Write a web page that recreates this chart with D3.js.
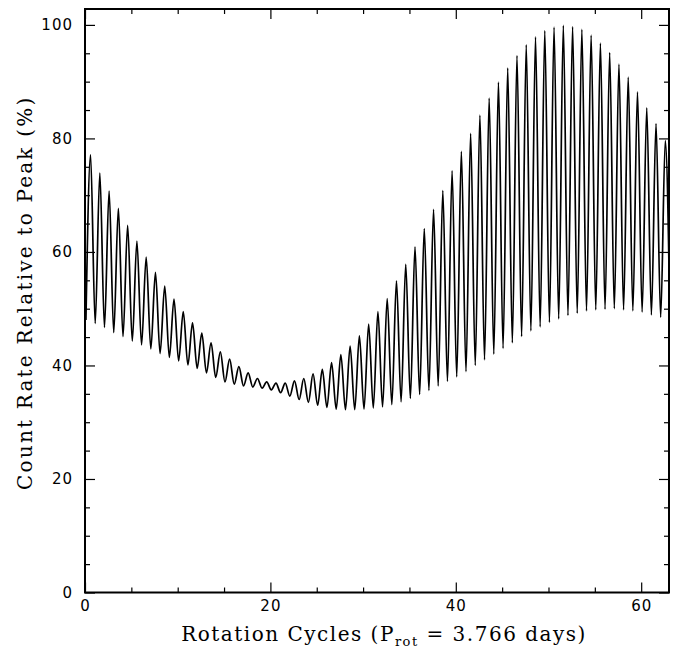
<!DOCTYPE html>
<html>
<head>
<meta charset="utf-8">
<script src="https://cdn.jsdelivr.net/npm/d3@7"></script>
<style>
  body { margin: 0; background: #fff; }
  .tick text { font-family: "DejaVu Sans", sans-serif; font-size: 15px; letter-spacing: 1px; fill: #000; }
  .title { font-family: "DejaVu Serif", serif; font-size: 20px; fill: #000; }
</style>
</head>
<body>
<svg id="chart"></svg>
<script>
// peak count rate per rotation cycle (cycles 0..62)
const peakValues = [
  77.1, 73.9, 70.7, 67.7, 64.7, 61.9, 59.1, 56.4, 54.0, 51.7,
  49.5, 47.5, 45.7, 44.0, 42.4, 41.1, 39.8, 38.7, 37.7, 37.1,
  36.9, 36.9, 37.3, 37.7, 38.5, 39.3, 40.5, 41.9, 43.4, 45.2,
  47.3, 49.5, 51.8, 54.9, 57.8, 60.9, 64.1, 67.5, 70.8, 74.3,
  77.7, 80.9, 84.1, 87.1, 89.9, 92.4, 94.6, 96.5, 97.9, 99.0,
  99.6, 99.9, 99.7, 99.2, 98.2, 96.8, 95.1, 93.1, 90.8, 88.2,
  85.4, 82.6, 79.6
];
// minimum count rate per rotation cycle (cycles 0..63)
const troughValues = [
  48.0, 47.4, 46.7, 45.8, 45.1, 44.3, 43.6, 42.9, 42.1, 41.4,
  40.8, 40.1, 39.5, 38.7, 37.9, 37.1, 36.7, 36.4, 36.2, 36.0,
  35.7, 35.2, 34.6, 34.0, 33.5, 33.0, 32.6, 32.3, 32.2, 32.2,
  32.3, 32.5, 32.7, 33.1, 33.6, 34.2, 34.9, 35.6, 36.4, 37.2,
  38.0, 38.9, 40.0, 41.0, 42.0, 43.0, 44.0, 45.1, 46.1, 46.8,
  47.6, 48.2, 48.8, 49.2, 49.6, 49.8, 49.9, 50.0, 49.8, 49.6,
  49.4, 48.9, 48.5, 48.0
];
const peakPhase = 0.6, troughPhase = 0.1;
const xMajor = [0, 20, 40, 60];
const yMajor = [0, 20, 40, 60, 80, 100];

var width = 680, height = 648;
var margin = {top: 9, right: 11, bottom: 55.5, left: 85};
var w = width - margin.left - margin.right,
    h = height - margin.top - margin.bottom;

var x = d3.scaleLinear().domain([0, 63]).range([0, w]);
var y = d3.scaleLinear().domain([0, 102.8]).range([h, 0]);

var svg = d3.select("#chart")
    .attr("width", width)
    .attr("height", height)
  .append("g")
    .attr("transform", "translate(" + margin.left + "," + margin.top + ")");

svg.append("clipPath").attr("id", "clip")
  .append("rect").attr("width", w).attr("height", h);

// alternate trough / peak points for each cycle
var pts = [];
troughValues.forEach(function(v, n) {
  pts.push([n + troughPhase, v]);
  if (n < peakValues.length) pts.push([n + peakPhase, peakValues[n]]);
});

var line = d3.line()
    .x(function(d) { return x(d[0]); })
    .y(function(d) { return y(d[1]); })
    .curve(d3.curveMonotoneX);

svg.append("path")
    .datum(pts)
    .attr("clip-path", "url(#clip)")
    .attr("fill", "none")
    .attr("stroke", "#000")
    .attr("stroke-width", 1.7)
    .attr("d", line);

// axes: ticks point inward, minor every 5
function styleAxis(g) {
  g.select(".domain").remove();
  g.selectAll(".tick line").attr("stroke", "#000").attr("stroke-width", 1.2);
}
var xMinor = d3.range(0, 64, 5).filter(function(v) { return xMajor.indexOf(v) < 0; });
var yMinor = d3.range(0, 103, 5).filter(function(v) { return yMajor.indexOf(v) < 0; });

svg.append("g").attr("transform", "translate(0," + h + ")")
    .call(d3.axisBottom(x).tickValues(xMajor).tickSize(-10).tickPadding(8).tickFormat(d3.format("d")))
    .call(styleAxis);
svg.append("g").attr("transform", "translate(0," + h + ")")
    .call(d3.axisBottom(x).tickValues(xMinor).tickSize(-5).tickFormat(""))
    .call(styleAxis);
svg.append("g")
    .call(d3.axisTop(x).tickValues(xMajor).tickSize(-10).tickFormat(""))
    .call(styleAxis);
svg.append("g")
    .call(d3.axisTop(x).tickValues(xMinor).tickSize(-5).tickFormat(""))
    .call(styleAxis);

svg.append("g")
    .call(d3.axisLeft(y).tickValues(yMajor).tickSize(-10).tickPadding(12).tickFormat(d3.format("d")))
    .call(styleAxis);
svg.append("g")
    .call(d3.axisLeft(y).tickValues(yMinor).tickSize(-5).tickFormat(""))
    .call(styleAxis);
svg.append("g").attr("transform", "translate(" + w + ",0)")
    .call(d3.axisRight(y).tickValues(yMajor).tickSize(-10).tickFormat(""))
    .call(styleAxis);
svg.append("g").attr("transform", "translate(" + w + ",0)")
    .call(d3.axisRight(y).tickValues(yMinor).tickSize(-5).tickFormat(""))
    .call(styleAxis);

svg.append("rect")
    .attr("width", w).attr("height", h)
    .attr("fill", "none").attr("stroke", "#000").attr("stroke-width", 2);

// axis titles
var xt = svg.append("text").attr("class", "title")
    .attr("x", w / 2 + 7).attr("y", h + 48)
    .attr("letter-spacing", 1.5)
    .attr("text-anchor", "middle");
xt.append("tspan").text("Rotation Cycles (P");
xt.append("tspan").attr("font-size", "13px").attr("dy", 5).text("rot");
xt.append("tspan").attr("dy", -5).text(" = 3.766 days)");

svg.append("text").attr("class", "title")
    .attr("transform", "translate(" + (-53) + "," + (h / 2 - 8) + ") rotate(-90)")
    .attr("letter-spacing", 2.2)
    .attr("text-anchor", "middle")
    .text("Count Rate Relative to Peak (%)");
</script>
</body>
</html>
